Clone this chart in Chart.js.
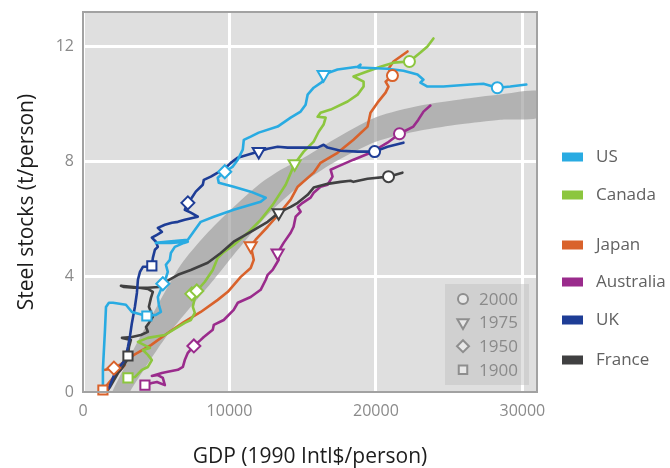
<!DOCTYPE html>
<html>
<head>
<meta charset="utf-8">
<script src="https://cdn.jsdelivr.net/npm/chart.js@4/dist/chart.umd.min.js"></script>
<style>
  html, body { margin: 0; padding: 0; background: #fff; }
  #wrap { width: 670px; height: 468px; }
</style>
</head>
<body>
<div id="wrap"><canvas id="c" width="670" height="468"></canvas></div>
<script>
// ---- data: GDP (1990 Intl$/person) vs steel stock (t/person) ----
const countries = ['US', 'Canada', 'Japan', 'Australia', 'UK', 'France'];
const markYears = [2000, 1975, 1950, 1900];
const xTicks = [0, 10000, 20000, 30000];
const yTicks = [0, 4, 8, 12];

const usPath = [[1300,0.2],[1360,0.8],[1500,2.15],[1570,2.95],[1770,3.1],[2050,3.1],[2930,3.03],[3340,2.78],
  [4360,2.64],[4980,2.68],[5320,2.78],[5180,3.03],[5110,3.3],[5320,3.55],[5450,3.76],[5660,3.96],[5790,4.17],
  [5660,4.42],[5930,4.59],[6000,4.83],[6270,5.04],[6890,5.18],[7160,5.22],[6000,5.18],[4980,5.18],[5660,5.22],
  [7160,5.29],[8040,5.91],[8930,6.09],[10290,6.33],[12130,6.61],[12480,6.75],[11450,6.96],[10290,7.13],[9270,7.27],
  [9200,7.44],[9680,7.65],[10230,7.83],[10570,8.07],[10910,8.42],[10980,8.76],[11450,8.87],[12000,9.01],
  [13290,9.22],[14180,9.53],[14860,9.74],[15200,9.98],[15340,10.33],[15750,10.57],[16360,10.78],[16430,11.03],
  [17380,11.2],[18750,11.3],[18950,11.37],[18820,11.27],[20790,11.23],[21880,11.16],[22840,11.03],[23250,10.85],
  [23040,10.75],[23520,10.61],[24610,10.61],[26450,10.68],[27340,10.71],[28290,10.57],[29180,10.61],[30270,10.68]];
const usMarks = [[4360,2.64,1900],[5450,3.76,1950],[9680,7.65,1950],[16430,11.03,1975],[28290,10.57,2000]];

const canadaPath = [[3070,0.49],[3545,0.52],[4020,0.77],[4430,0.87],[4700,1.11],[4430,1.29],[4090,1.46],[4570,1.53],
  [3750,1.74],[4430,1.88],[5590,1.98],[6950,2.4],[7360,2.5],[7635,2.75],[7500,2.96],[7635,3.27],[7430,3.41],
  [7770,3.51],[8320,3.83],[8860,4.24],[9200,4.66],[9540,4.83],[10290,5.11],[11250,5.53],[12130,5.98],[12950,6.5],
  [13840,7.2],[14450,7.93],[15070,8.35],[15750,8.7],[16090,9.04],[16430,9.29],[16570,9.53],[16020,9.56],[16220,9.7],
  [16910,9.81],[18070,10.09],[18750,10.33],[19160,10.61],[19160,10.78],[18470,10.96],[19160,11.09],[20310,11.3],
  [21200,11.44],[22290,11.48],[23040,11.79],[23520,12.0],[23930,12.28]];
const canadaMarks = [[3070,0.49,1900],[7430,3.41,1950],[7770,3.51,1950],[14450,7.93,1975],[22290,11.48,2000]];

const japanPath = [[1360,0.07],[1640,0.24],[2050,0.49],[2450,0.7],[2860,0.94],[2590,0.87],[1500,0.77],[1910,0.8],
  [2110,0.83],[2590,0.97],[3480,1.29],[4640,1.63],[5790,2.05],[6890,2.43],[8040,2.78],[9200,3.2],[9890,3.48],
  [10770,4.0],[11450,4.31],[11660,4.59],[11450,5.08],[11790,5.29],[12610,5.74],[13500,6.26],[14180,6.68],
  [14660,7.13],[15750,7.62],[16220,7.96],[17380,8.31],[18470,8.76],[19430,9.22],[19630,9.7],[20110,10.05],
  [20660,10.4],[20860,10.61],[20660,10.78],[21130,10.99],[20860,11.23],[21200,11.48],[22160,11.83]];
const japanMarks = [[1360,0.07,1900],[2110,0.83,1950],[11450,5.08,1975],[21130,10.99,2000]];

const australiaPath = [[4230,0.24],[4700,0.31],[5050,0.35],[5590,0.24],[5450,0.49],[5110,0.59],[4700,0.56],
  [5385,0.66],[5790,0.7],[6480,0.77],[6820,0.87],[6950,1.11],[7160,1.36],[7570,1.6],[8040,1.81],[8250,1.91],
  [8860,2.16],[8930,2.33],[9610,2.5],[10290,2.85],[10570,3.1],[11450,3.3],[12130,3.55],[12480,3.9],[12610,4.07],
  [12950,4.24],[13160,4.42],[13360,4.59],[13290,4.83],[13700,5.18],[14180,5.53],[14380,5.74],[14520,6.09],
  [14860,6.26],[14660,6.43],[15000,6.57],[15540,6.75],[15750,6.92],[16220,7.13],[16700,7.2],[17040,7.48],
  [16910,7.72],[17380,7.83],[18470,8.07],[19630,8.31],[20790,8.66],[21610,8.97],[22560,9.22],[22900,9.46],
  [23250,9.74],[23720,9.95]];
const australiaMarks = [[4230,0.24,1900],[7570,1.6,1950],[13290,4.83,1975],[21610,8.97,2000]];

const ukPath = [[1770,0.14],[2180,0.66],[2860,1.11],[3070,1.57],[3200,1.91],[3340,2.4],[3545,2.96],[3680,3.44],
  [3750,3.9],[3890,4.17],[4090,4.35],[4430,4.35],[4700,4.38],[4770,4.66],[4910,4.94],[5110,5.04],[4980,5.22],
  [4700,5.36],[5050,5.46],[5390,5.56],[5110,5.7],[5590,5.81],[6070,5.88],[6480,5.91],[6950,5.98],[7840,6.09],
  [7360,6.23],[6950,6.33],[7160,6.57],[7430,6.75],[7700,6.96],[8180,7.2],[8250,7.37],[8730,7.48],[9200,7.62],
  [9610,7.72],[10090,7.96],[10570,8.14],[11250,8.24],[12000,8.35],[12610,8.45],[13290,8.52],[13980,8.49],
  [14860,8.49],[16020,8.49],[16430,8.59],[16700,8.49],[17590,8.38],[18750,8.35],[19910,8.35],[20790,8.52],
  [21880,8.66]];
const ukMarks = [[4700,4.38,1900],[7160,6.57,1950],[12000,8.35,1975],[19910,8.35,2000]];

const francePath = [[1700,0.07],[1840,0.17],[2390,0.66],[2730,0.87],[3000,1.11],[3070,1.25],[3140,1.57],
  [3270,1.81],[2660,1.88],[3340,1.91],[3950,1.98],[4430,2.09],[4300,2.26],[4500,2.4],[4770,2.61],[4500,2.96],
  [4640,3.27],[4770,3.48],[4430,3.58],[3480,3.65],[2590,3.69],[2800,3.65],[3480,3.62],[4430,3.62],[5180,3.65],
  [5520,3.79],[6480,4.07],[7360,4.24],[8520,4.49],[9410,4.83],[10290,5.22],[11450,5.56],[12610,5.91],
  [13360,6.23],[14180,6.43],[14660,6.57],[15340,6.85],[15750,7.1],[16700,7.23],[17590,7.3],[18270,7.34],
  [18470,7.3],[19430,7.41],[20860,7.48],[21810,7.62]];
const franceMarks = [[3070,1.25,1900],[13360,6.23,1975],[20860,7.48,2000]];

// grey trend band: upper edge and lower edge
const bandUpper = [[1840,-0.17],[2050,0.07],[3610,1.63],[5110,3.03],[6680,4.42],[8380,5.46],[10090,6.33],
  [12000,7.2],[13500,7.72],[14860,8.07],[17110,8.76],[20040,9.55],[23040,9.95],[25770,10.16],[28490,10.33],
  [31220,10.43]];
const bandLower = [[3070,-0.17],[3270,0.07],[5520,1.81],[7360,2.96],[8930,3.9],[10570,4.94],[12610,6.16],
  [14860,7.2],[17110,7.96],[20040,8.7],[23040,9.08],[25770,9.3],[28490,9.46],[31220,9.56]];

// ---- styling ----
const COLORS = {
  US: '#29abe2', Canada: '#8cc63e', Japan: '#d9622b',
  Australia: '#9a2b8c', UK: '#1e3d96', France: '#404041'
};
const SHAPE = { 2000: 'circle', 1975: 'triangle', 1950: 'rectRot', 1900: 'rect' };
const RADIUS = { 2000: 5.5, 1975: 7, 1950: 6.5, 1900: 6.5 };
const ROT = { 2000: 0, 1975: 180, 1950: 0, 1900: 0 };
const FONT = "'Open Sans', 'Noto Sans', sans-serif";

const paths = { US: usPath, Canada: canadaPath, Japan: japanPath, Australia: australiaPath, UK: ukPath, France: francePath };
const marks = { US: usMarks, Canada: canadaMarks, Japan: japanMarks, Australia: australiaMarks, UK: ukMarks, France: franceMarks };
const drawOrder = { US: 1, UK: 2, France: 3, Canada: 4, Japan: 5, Australia: 6 };

const toXY = p => ({ x: p[0], y: p[1] });
const datasets = [];

datasets.push({
  label: 'band',
  data: bandUpper.concat(bandLower.slice().reverse()).map(toXY),
  showLine: true,
  fill: 'shape',
  backgroundColor: 'rgba(150,150,150,0.62)',
  borderWidth: 0,
  pointRadius: 0,
  tension: 0.25,
  order: 50
});

countries.forEach(name => {
  datasets.push({
    label: name,
    data: paths[name].map(toXY),
    showLine: true,
    borderColor: COLORS[name],
    borderWidth: 2.6,
    borderJoinStyle: 'round',
    borderCapStyle: 'round',
    pointRadius: 0,
    tension: 0,
    fill: false,
    order: 10 + drawOrder[name]
  });
});

countries.forEach(name => {
  const m = marks[name];
  datasets.push({
    label: name + ' years',
    data: m.map(toXY),
    showLine: false,
    pointStyle: m.map(p => SHAPE[p[2]]),
    pointRadius: m.map(p => RADIUS[p[2]]),
    pointRotation: m.map(p => ROT[p[2]]),
    pointBackgroundColor: '#ffffff',
    pointBorderColor: COLORS[name],
    pointBorderWidth: 2,
    clip: false,
    order: drawOrder[name]
  });
});

function drawShape(ctx, style, r, rot, x, y) {
  const rad = rot * Math.PI / 180;
  if (style === 'circle') {
    ctx.arc(x, y, r, 0, Math.PI * 2);
  } else if (style === 'triangle') {
    for (let k = 0; k < 3; k++) {
      const ang = rad + k * 2 * Math.PI / 3;
      const px = x + Math.sin(ang) * r, py = y - Math.cos(ang) * r;
      if (k === 0) ctx.moveTo(px, py); else ctx.lineTo(px, py);
    }
    ctx.closePath();
  } else if (style === 'rectRot') {
    ctx.moveTo(x, y - r); ctx.lineTo(x + r, y); ctx.lineTo(x, y + r); ctx.lineTo(x - r, y);
    ctx.closePath();
  } else {
    const s = r * Math.SQRT1_2;
    ctx.rect(x - s, y - s, 2 * s, 2 * s);
  }
}

// plot background, frame, year-marker key and country key
const decorations = {
  id: 'decorations',
  beforeDraw(chart) {
    const { ctx, chartArea: a } = chart;
    ctx.save();
    ctx.fillStyle = '#dfdfdf';
    ctx.fillRect(a.left, a.top, a.right - a.left, a.bottom - a.top);
    ctx.restore();
  },
  afterDatasetsDraw(chart) {
    const { ctx, chartArea: a } = chart;
    ctx.save();
    ctx.strokeStyle = '#a2a2a2';
    ctx.lineWidth = 2;
    ctx.strokeRect(a.left, a.top, a.right - a.left, a.bottom - a.top);

    // year key box
    const bx = a.right - 92, by = a.bottom - 108, bw = 84, bh = 101;
    ctx.fillStyle = 'rgba(190,190,190,0.45)';
    ctx.fillRect(bx, by, bw, bh);
    ctx.font = '17px ' + FONT;
    ctx.textBaseline = 'middle';
    ctx.textAlign = 'left';
    markYears.forEach((yr, i) => {
      const cy = by + 15 + i * 23.6;
      const cx = bx + 18;
      ctx.fillStyle = '#e8e8e8';
      ctx.strokeStyle = '#8e8e8e';
      ctx.lineWidth = 2;
      ctx.beginPath();
      drawShape(ctx, SHAPE[yr], RADIUS[yr] - 0.5, ROT[yr], cx, cy);
      ctx.fill();
      ctx.stroke();
      ctx.fillStyle = '#8a8a8a';
      ctx.fillText(String(yr), bx + 34, cy + 1);
    });
    ctx.restore();
  },
  afterDraw(chart) {
    const { ctx, chartArea: a } = chart;
    const rows = [157, 195, 245, 282, 320, 360];
    ctx.save();
    ctx.font = '17px ' + FONT;
    ctx.textBaseline = 'middle';
    ctx.textAlign = 'left';
    countries.forEach((name, i) => {
      ctx.fillStyle = COLORS[name];
      ctx.fillRect(a.right + 25, rows[i] - 4.5, 21, 9);
      ctx.fillStyle = '#616161';
      ctx.fillText(name, a.right + 59, rows[i]);
    });
    ctx.restore();
  }
};

new Chart(document.getElementById('c'), {
  type: 'scatter',
  data: { datasets },
  plugins: [decorations],
  options: {
    responsive: false,
    animation: false,
    events: [],
    devicePixelRatio: 1,
    layout: { padding: { left: 0, top: 12, right: 133, bottom: 0 } },
    plugins: { legend: { display: false }, tooltip: { enabled: false } },
    scales: {
      x: {
        type: 'linear', min: 0, max: 31000,
        afterBuildTicks: s => { s.ticks = xTicks.map(v => ({ value: v })); },
        afterFit: s => { s.height = 76; s.paddingLeft = 0; s.paddingRight = 0; },
        grid: { color: '#ffffff', lineWidth: 3, drawTicks: false },
        border: { display: false },
        ticks: { padding: 10, color: '#8a8a8a', font: { family: FONT, size: 16 }, maxRotation: 0,
                 callback: v => String(v) },
        title: { display: true, text: 'GDP (1990 Intl$/person)', color: '#1c1c1c',
                 font: { family: FONT, size: 21, lineHeight: 1.0 }, padding: { top: 0, bottom: 0 } }
      },
      y: {
        type: 'linear', min: 0, max: 13.2,
        afterBuildTicks: s => { s.ticks = yTicks.map(v => ({ value: v })); },
        afterFit: s => { s.width = 83; s.paddingTop = 0; s.paddingBottom = 0; },
        grid: { color: '#ffffff', lineWidth: 3, drawTicks: false },
        border: { display: false },
        ticks: { padding: 9, color: '#8a8a8a', font: { family: FONT, size: 16 },
                 callback: v => String(v) },
        title: { display: true, text: 'Steel stocks (t/person)', color: '#1c1c1c',
                 font: { family: FONT, size: 21 }, padding: { top: 14, bottom: 0 } }
      }
    }
  }
});
</script>
</body>
</html>
